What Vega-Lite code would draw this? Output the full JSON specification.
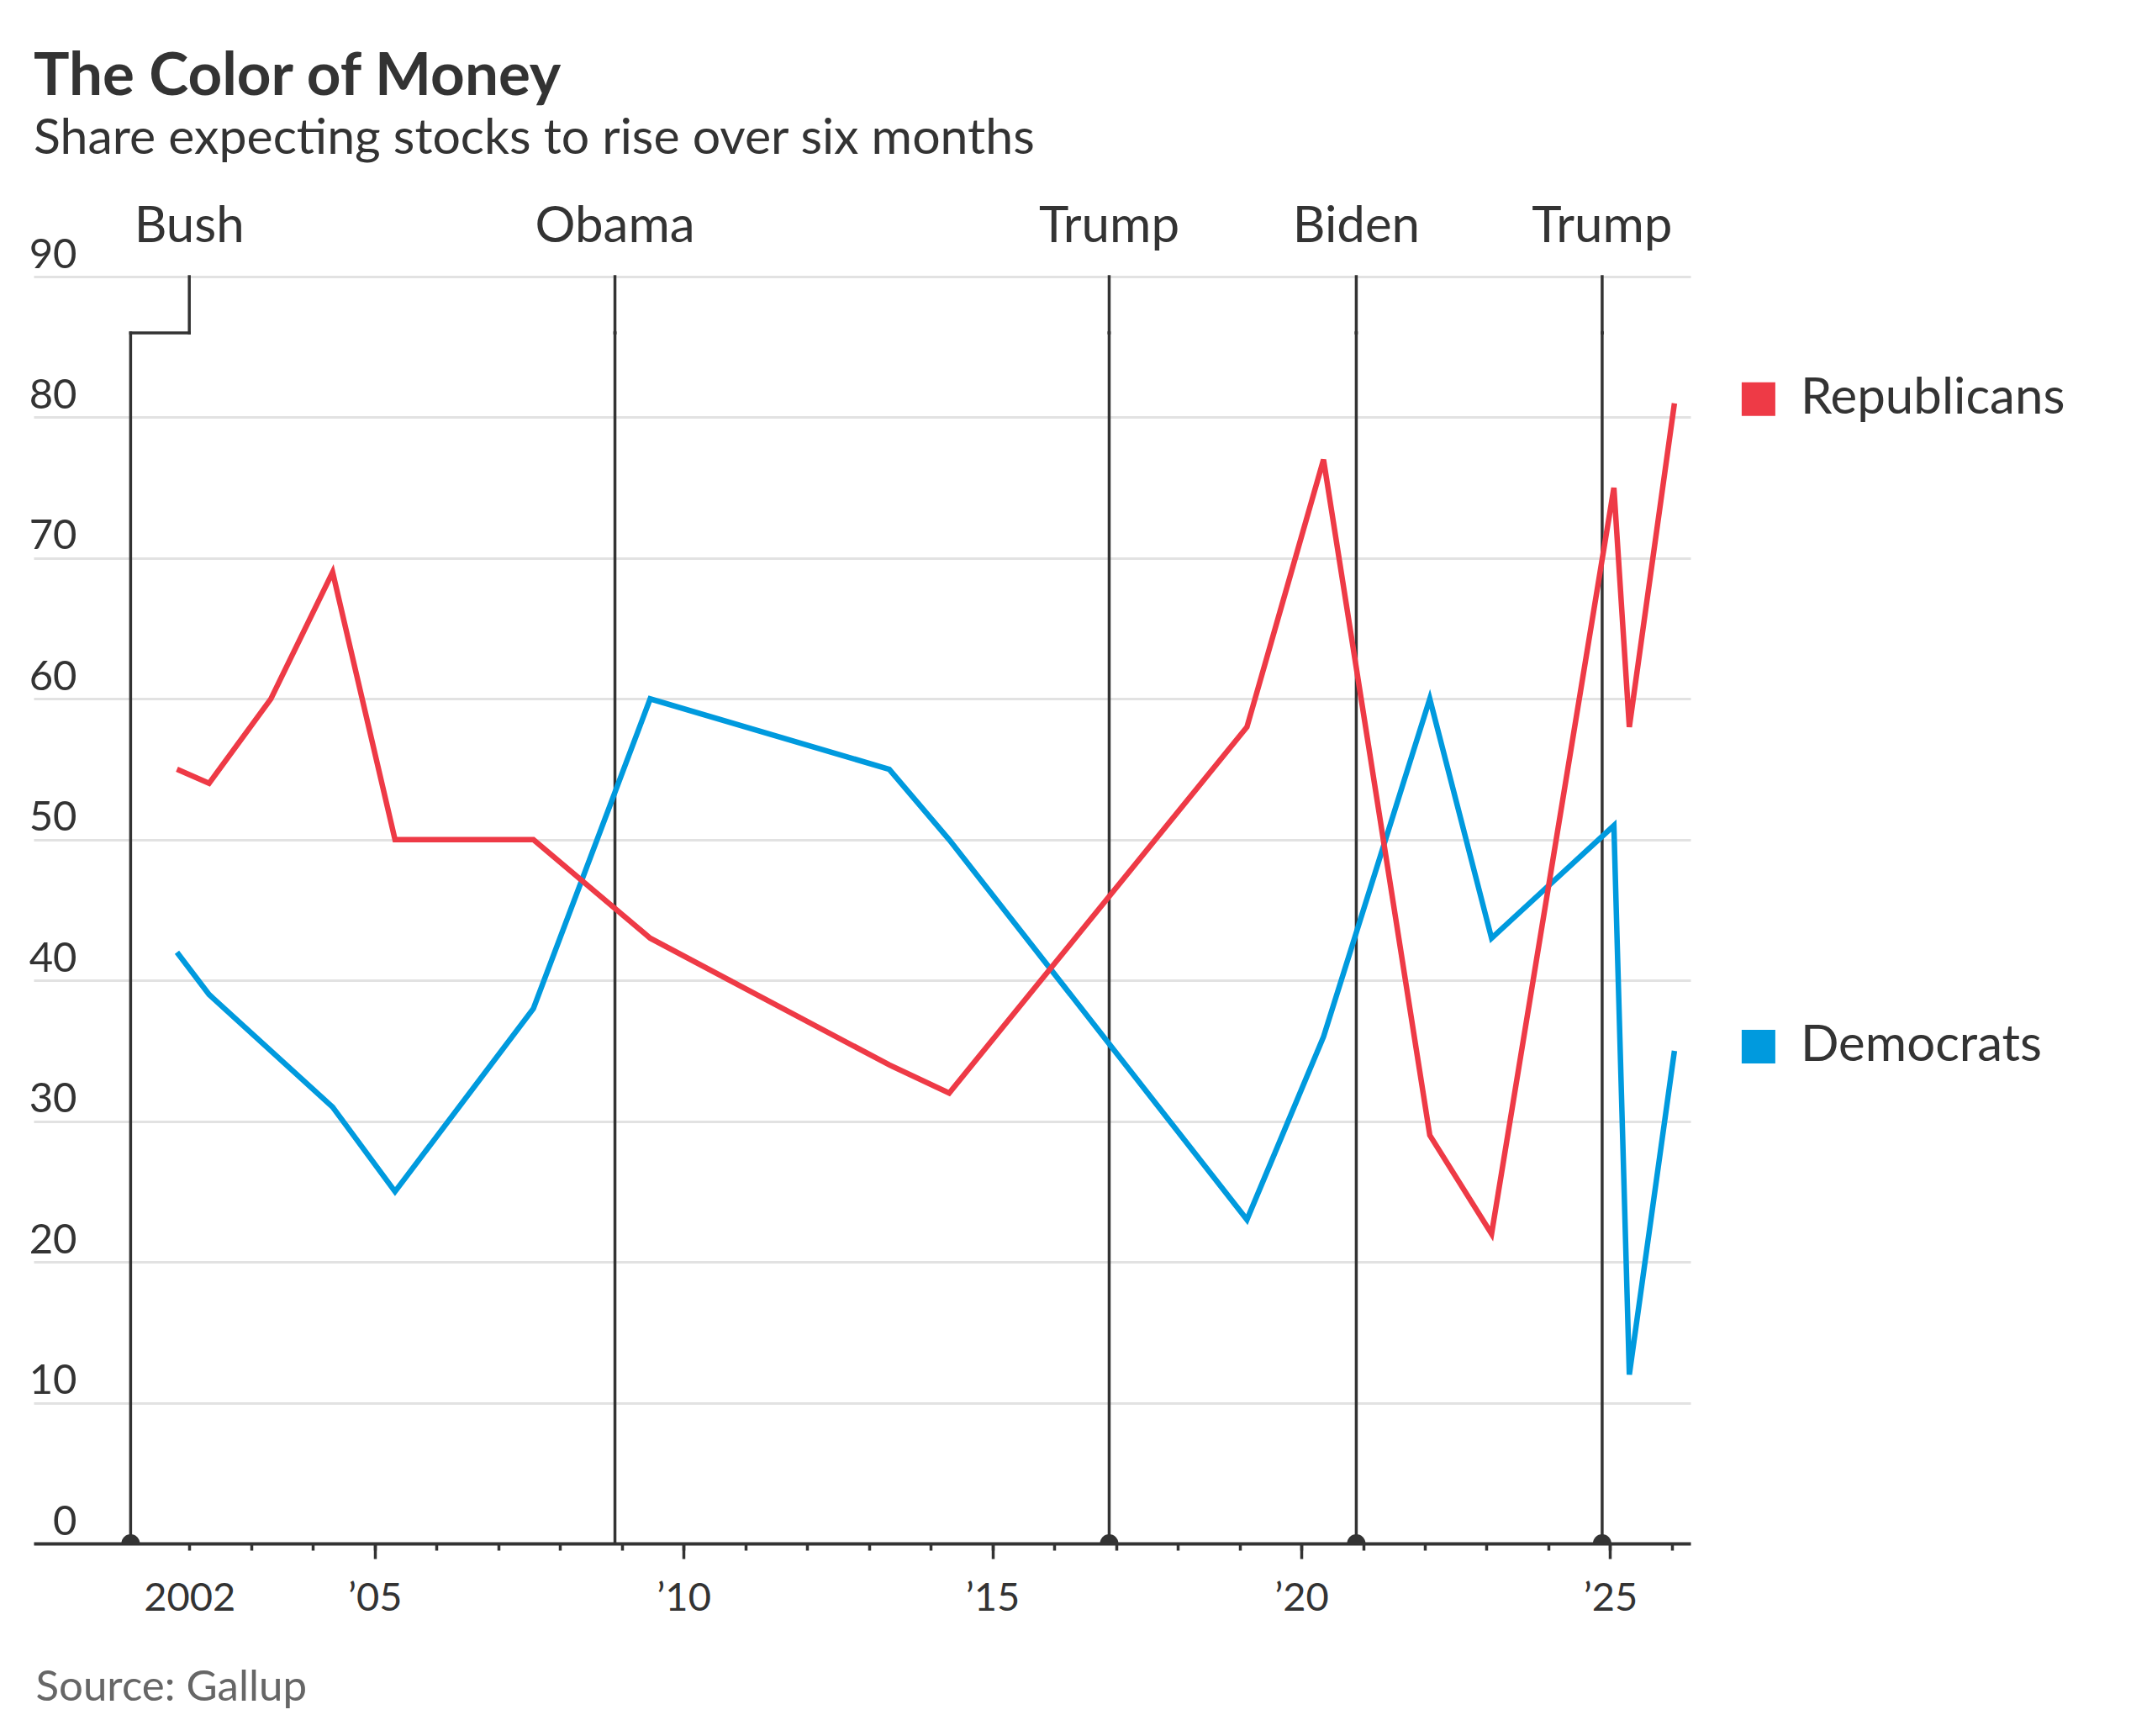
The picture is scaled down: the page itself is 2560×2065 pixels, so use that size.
{
  "$schema": "https://vega.github.io/schema/vega-lite/v6.json",
  "width": 1971,
  "height": 1507,
  "autosize": {"type": "none"},
  "padding": {"left": 40, "top": 329, "right": 549, "bottom": 229},
  "background": "white",
  "config": {"font": "Lato", "view": {"stroke": null}},
  "title": {
    "text": "The Color of Money",
    "subtitle": "Share expecting stocks to rise over six months",
    "anchor": "start",
    "frame": "group",
    "font": "Lato",
    "fontSize": 71,
    "fontWeight": "bold",
    "color": "#333333",
    "subtitleFont": "Lato",
    "subtitleFontSize": 59,
    "subtitleColor": "#333333",
    "subtitlePadding": 8,
    "offset": 44
  },
  "datasets": {
    "survey": [
      {"year": 2001.80, "party": "Democrats", "share": 42},
      {"year": 2002.32, "party": "Democrats", "share": 39},
      {"year": 2004.32, "party": "Democrats", "share": 31},
      {"year": 2005.33, "party": "Democrats", "share": 25},
      {"year": 2007.57, "party": "Democrats", "share": 38},
      {"year": 2009.46, "party": "Democrats", "share": 60},
      {"year": 2013.33, "party": "Democrats", "share": 55},
      {"year": 2014.30, "party": "Democrats", "share": 50},
      {"year": 2019.12, "party": "Democrats", "share": 23},
      {"year": 2020.36, "party": "Democrats", "share": 36},
      {"year": 2022.08, "party": "Democrats", "share": 60},
      {"year": 2023.08, "party": "Democrats", "share": 43},
      {"year": 2025.06, "party": "Democrats", "share": 51},
      {"year": 2025.31, "party": "Democrats", "share": 12},
      {"year": 2026.04, "party": "Democrats", "share": 35},
      {"year": 2001.80, "party": "Republicans", "share": 55},
      {"year": 2002.32, "party": "Republicans", "share": 54},
      {"year": 2003.32, "party": "Republicans", "share": 60},
      {"year": 2004.32, "party": "Republicans", "share": 69},
      {"year": 2005.33, "party": "Republicans", "share": 50},
      {"year": 2007.57, "party": "Republicans", "share": 50},
      {"year": 2009.46, "party": "Republicans", "share": 43},
      {"year": 2013.33, "party": "Republicans", "share": 34},
      {"year": 2014.30, "party": "Republicans", "share": 32},
      {"year": 2019.12, "party": "Republicans", "share": 58},
      {"year": 2020.36, "party": "Republicans", "share": 77},
      {"year": 2022.08, "party": "Republicans", "share": 29},
      {"year": 2023.08, "party": "Republicans", "share": 22},
      {"year": 2025.06, "party": "Republicans", "share": 75},
      {"year": 2025.31, "party": "Republicans", "share": 58},
      {"year": 2026.04, "party": "Republicans", "share": 81}
    ],
    "presidents": [
      {"president": "Bush", "start": 2001.05, "label_x": 2002},
      {"president": "Obama", "start": 2008.89, "label_x": 2008.89},
      {"president": "Trump", "start": 2016.89, "label_x": 2016.89},
      {"president": "Biden", "start": 2020.89, "label_x": 2020.89},
      {"president": "Trump", "start": 2024.87, "label_x": 2024.87}
    ]
  },
  "resolve": {"axis": {"x": "independent"}},
  "layer": [
    {
      "data": {"name": "presidents"},
      "mark": {"type": "rule", "color": "#333333", "strokeWidth": 3.5, "strokeCap": "square"},
      "encoding": {
        "x": {
          "field": "start", "type": "quantitative",
          "scale": {"domain": [1999.48, 2026.3], "nice": false, "zero": false},
          "axis": {
            "orient": "bottom",
            "values": [2005, 2010, 2015, 2020, 2025],
            "tickSize": 18, "tickWidth": 3.5, "tickColor": "#333333",
            "labels": false, "domain": false, "grid": false, "title": null
          }
        },
        "y": {
          "datum": 0, "type": "quantitative",
          "scale": {"domain": [0, 90], "nice": false, "zero": false},
          "axis": {
            "values": [0, 10, 20, 30, 40, 50, 60, 70, 80, 90],
            "grid": true, "gridColor": "#e2e2e2", "gridWidth": 3.2,
            "domain": false, "ticks": false, "tickSize": 0,
            "labelAlign": "right", "labelPadding": -51, "labelBaseline": "alphabetic", "labelOffset": -11,
            "labelFont": "Lato", "labelFontSize": 49, "labelColor": "#333333",
            "labelFlush": false, "labelOverlap": false, "labelBound": false,
            "title": null
          }
        },
        "y2": {"datum": 86}
      }
    },
    {
      "data": {"name": "presidents"},
      "mark": {"type": "rule", "color": "#333333", "strokeWidth": 3.5, "strokeCap": "square"},
      "encoding": {
        "x": {"field": "label_x", "type": "quantitative", "scale": {"domain": [1999.48, 2026.3], "nice": false, "zero": false}, "axis": null},
        "y": {"datum": 86, "type": "quantitative", "scale": {"domain": [0, 90], "nice": false, "zero": false}},
        "y2": {"datum": 90}
      }
    },
    {
      "data": {"name": "presidents"},
      "mark": {"type": "rule", "color": "#333333", "strokeWidth": 3.5, "strokeCap": "square"},
      "encoding": {
        "x": {"field": "start", "type": "quantitative", "scale": {"domain": [1999.48, 2026.3], "nice": false, "zero": false}, "axis": null},
        "x2": {"field": "label_x"},
        "y": {"datum": 86, "type": "quantitative", "scale": {"domain": [0, 90], "nice": false, "zero": false}}
      }
    },
    {
      "data": {"name": "survey"},
      "mark": {"type": "line", "strokeWidth": 6.5},
      "encoding": {
        "x": {
          "field": "year", "type": "quantitative",
          "scale": {"domain": [1999.48, 2026.3], "nice": false, "zero": false},
          "axis": {
            "orient": "bottom",
            "values": [2002, 2003, 2004, 2005, 2006, 2007, 2008, 2009, 2010, 2011, 2012, 2013, 2014, 2015, 2016, 2017, 2018, 2019, 2020, 2021, 2022, 2023, 2024, 2025, 2026],
            "tickSize": 8, "tickWidth": 3.5, "tickColor": "#333333",
            "domain": true, "domainWidth": 4, "domainColor": "#333333",
            "grid": false,
            "labelExpr": "datum.value == 2002 ? '2002' : (datum.value % 5 == 0 ? '’' + substring(toString(datum.value), 2) : '')",
            "labelFont": "Lato", "labelFontSize": 47, "labelColor": "#333333",
            "labelPadding": 71, "labelBaseline": "alphabetic", "labelAlign": "center",
            "labelFlush": false, "labelOverlap": false, "labelBound": false,
            "title": "Source: Gallup",
            "titleAnchor": "start", "titleAlign": "left", "titleBaseline": "alphabetic",
            "titleX": 2, "titleY": 186, "titleAngle": 0,
            "titleFont": "Lato", "titleFontSize": 51, "titleFontWeight": "normal", "titleColor": "#666666"
          }
        },
        "y": {"field": "share", "type": "quantitative", "scale": {"domain": [0, 90], "nice": false, "zero": false}},
        "color": {
          "field": "party", "type": "nominal",
          "scale": {"domain": ["Republicans", "Democrats"], "range": ["#ee3a46", "#009ade"]},
          "legend": null
        }
      }
    },
    {
      "data": {"name": "presidents"},
      "transform": [{"filter": "datum.president != 'Obama'"}],
      "mark": {"type": "point", "shape": "circle", "filled": true, "opacity": 1, "color": "#333333", "size": 480, "clip": true},
      "encoding": {
        "x": {"field": "start", "type": "quantitative", "scale": {"domain": [1999.48, 2026.3], "nice": false, "zero": false}, "axis": null},
        "y": {"datum": 0, "type": "quantitative", "scale": {"domain": [0, 90], "nice": false, "zero": false}}
      }
    },
    {
      "data": {"name": "presidents"},
      "mark": {"type": "text", "font": "Lato", "fontSize": 60, "color": "#333333", "align": "center", "baseline": "alphabetic"},
      "encoding": {
        "x": {"field": "label_x", "type": "quantitative", "scale": {"domain": [1999.48, 2026.3], "nice": false, "zero": false}, "axis": null},
        "y": {"datum": 92.45, "type": "quantitative", "scale": {"domain": [0, 90], "nice": false, "zero": false}},
        "text": {"field": "president"}
      }
    },
    {
      "data": {"name": "survey"},
      "transform": [
        {"joinaggregate": [{"op": "max", "field": "year", "as": "last_year"}], "groupby": ["party"]},
        {"filter": "datum.year == datum.last_year"}
      ],
      "mark": {"type": "square", "filled": true, "opacity": 1, "size": 1600, "xOffset": 100, "yOffset": -5},
      "encoding": {
        "x": {"field": "year", "type": "quantitative", "scale": {"domain": [1999.48, 2026.3], "nice": false, "zero": false}, "axis": null},
        "y": {"field": "share", "type": "quantitative", "scale": {"domain": [0, 90], "nice": false, "zero": false}},
        "color": {"field": "party", "type": "nominal", "scale": {"domain": ["Republicans", "Democrats"], "range": ["#ee3a46", "#009ade"]}, "legend": null}
      }
    },
    {
      "data": {"name": "survey"},
      "transform": [
        {"joinaggregate": [{"op": "max", "field": "year", "as": "last_year"}], "groupby": ["party"]},
        {"filter": "datum.year == datum.last_year"}
      ],
      "mark": {"type": "text", "font": "Lato", "fontSize": 60, "color": "#333333", "align": "left", "baseline": "alphabetic", "dx": 150, "dy": 12},
      "encoding": {
        "x": {"field": "year", "type": "quantitative", "scale": {"domain": [1999.48, 2026.3], "nice": false, "zero": false}, "axis": null},
        "y": {"field": "share", "type": "quantitative", "scale": {"domain": [0, 90], "nice": false, "zero": false}},
        "text": {"field": "party"}
      }
    }
  ]
}
